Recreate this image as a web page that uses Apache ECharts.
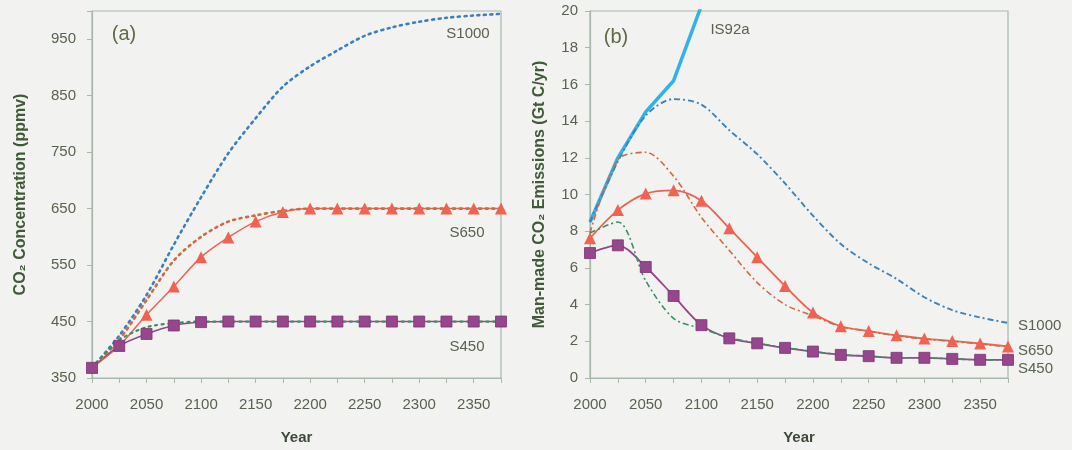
<!DOCTYPE html>
<html>
<head>
<meta charset="utf-8">
<script src="https://cdn.jsdelivr.net/npm/echarts@6/dist/echarts.min.js"></script>
<style>
  html, body { margin: 0; padding: 0; background: #f2f2f0; }
  #chart { width: 1072px; height: 450px; }
</style>
</head>
<body>
<div id="chart"></div>
<script>
// ---- Data ----
const years = [2000, 2025, 2050, 2075, 2100, 2125, 2150, 2175, 2200, 2225, 2250, 2275, 2300, 2325, 2350, 2375];
const yearLabels = [2000, 2050, 2100, 2150, 2200, 2250, 2300, 2350];
const concTicks = [350, 450, 550, 650, 750, 850, 950];
const emisTicks = [0, 2, 4, 6, 8, 10, 12, 14, 16, 18, 20];

// Panel (a): CO2 concentration (ppmv)
const concS1000 = [368, 425, 497, 586, 670, 748, 810, 866, 902, 930, 956, 971, 981, 988, 992, 995];
const concS650Dotted = [368, 418, 488, 558, 600, 627, 638, 646, 650, 650, 650, 650, 650, 650, 650, 650];
const concS650Marked = [368, 407, 462, 512, 564, 599, 627, 644, 650, 650, 650, 650, 650, 650, 650, 650];
const concS450Dotted = [368, 417, 440, 447, 450, 450, 450, 450, 450, 450, 450, 450, 450, 450, 450, 450];
const concS450Marked = [368, 407, 428, 443, 449, 450, 450, 450, 450, 450, 450, 450, 450, 450, 450, 450];

// Panel (b): man-made CO2 emissions (Gt C/yr)
const is92aYears = [2000, 2025, 2050, 2075, 2100];
const emisIS92a = [8.5, 12.0, 14.5, 16.2, 20.3];
const emisS1000 = [8.5, 11.8, 14.3, 15.2, 14.9, 13.5, 12.2, 10.6, 8.85, 7.3, 6.25, 5.4, 4.4, 3.7, 3.3, 3.0];
const emisS650Dotted = [7.9, 11.9, 12.3, 11.0, 8.75, 6.95, 5.2, 4.0, 3.4, 2.8, 2.55, 2.3, 2.12, 2.0, 1.85, 1.7];
const emisS650Marked = [7.62, 9.15, 10.05, 10.23, 9.66, 8.16, 6.58, 5.01, 3.57, 2.82, 2.56, 2.33, 2.15, 2.02, 1.88, 1.72];
const emisS450Dotted = [7.9, 8.5, 5.3, 3.25, 2.7, 2.2, 1.9, 1.66, 1.45, 1.27, 1.19, 1.1, 1.1, 1.04, 0.99, 0.98];
const emisS450Marked = [6.81, 7.23, 6.05, 4.47, 2.88, 2.16, 1.89, 1.64, 1.44, 1.26, 1.19, 1.1, 1.1, 1.04, 0.99, 0.99];

// ---- Styles ----
const FONT = "'Liberation Sans', Arial, sans-serif";
const AXIS_COLOR = '#a6b9ac';
const LABEL_COLOR = '#59624f';
const NAME_COLOR = '#3f5a37';
const C_BLUE = '#3b7fc0';
const C_RED = '#f06352';
const C_RED_DOT = '#cf6a43';
const C_PURPLE = '#96478c';
const C_GREEN = '#3c8f62';
const C_IS92A = '#33b2e8';

const pairs = (xs, ys) => xs.map((x, i) => [x, ys[i]]);

function xAxis(gridIndex) {
  return {
    type: 'value', gridIndex, min: 2000, max: 2375, interval: 25,
    name: 'Year', nameLocation: 'middle', nameGap: 52,
    nameTextStyle: { fontFamily: FONT, fontSize: 15, fontWeight: 'bold', color: '#3e4a38' },
    axisLine: { show: true, lineStyle: { color: AXIS_COLOR, width: 1.2 } },
    axisTick: { show: true, length: 5, lineStyle: { color: AXIS_COLOR } },
    axisLabel: {
      margin: 19, fontFamily: FONT, fontSize: 15, color: LABEL_COLOR,
      formatter: v => (yearLabels.indexOf(v) >= 0 ? String(v) : '')
    },
    splitLine: { show: false }
  };
}

const option = {
  backgroundColor: '#f2f2f0',
  animation: false,
  grid: [
    { left: 92, top: 11, width: 409, height: 369, show: true, borderColor: AXIS_COLOR, borderWidth: 1.2, backgroundColor: 'transparent' },
    { left: 590, top: 11, width: 418, height: 370, show: true, borderColor: AXIS_COLOR, borderWidth: 1.2, backgroundColor: 'transparent' }
  ],
  xAxis: [xAxis(0), xAxis(1)],
  yAxis: [
    {
      type: 'value', gridIndex: 0, min: 350, max: 1000, interval: 100,
      name: 'CO\u2082 Concentration (ppmv)', nameLocation: 'middle', nameGap: 63, nameRotate: 90,
      nameTextStyle: { fontFamily: FONT, fontSize: 16, fontWeight: 'bold', color: NAME_COLOR },
      axisLine: { show: true, lineStyle: { color: AXIS_COLOR, width: 1.2 } },
      axisTick: { show: true, length: 5, lineStyle: { color: AXIS_COLOR } },
      axisLabel: {
        margin: 16, fontFamily: FONT, fontSize: 15, color: LABEL_COLOR,
        formatter: v => (concTicks.indexOf(v) >= 0 ? String(v) : '')
      },
      splitLine: { show: false }
    },
    {
      type: 'value', gridIndex: 1, min: 0, max: 20, interval: 2,
      name: 'Man-made CO\u2082 Emissions (Gt C/yr)', nameLocation: 'middle', nameGap: 42, nameRotate: 90,
      nameTextStyle: { fontFamily: FONT, fontSize: 16, fontWeight: 'bold', color: NAME_COLOR },
      axisLine: { show: true, lineStyle: { color: AXIS_COLOR, width: 1.2 } },
      axisTick: { show: true, length: 5, lineStyle: { color: AXIS_COLOR } },
      axisLabel: {
        margin: 12, fontFamily: FONT, fontSize: 15, color: LABEL_COLOR,
        formatter: v => (emisTicks.indexOf(v) >= 0 ? String(v) : '')
      },
      splitLine: { show: false }
    }
  ],
  series: [
    // Panel (a)
    { name: 'S650 marked (a)', type: 'line', xAxisIndex: 0, yAxisIndex: 0, data: pairs(years, concS650Marked),
      smooth: 0.3, symbol: 'triangle', symbolSize: 12, itemStyle: { color: C_RED },
      lineStyle: { color: C_RED, width: 1.5 } },
    { name: 'S450 marked (a)', type: 'line', xAxisIndex: 0, yAxisIndex: 0, data: pairs(years, concS450Marked),
      smooth: 0.3, symbol: 'rect', symbolSize: 11, itemStyle: { color: C_PURPLE, borderColor: '#7a3372', borderWidth: 0.8 },
      lineStyle: { color: C_PURPLE, width: 1.5 } },
    { name: 'S1000 (a)', type: 'line', xAxisIndex: 0, yAxisIndex: 0, data: pairs(years, concS1000),
      smooth: 0.3, showSymbol: false, lineStyle: { color: C_BLUE, width: 2.6, type: [2, 4.5], cap: 'round' } },
    { name: 'S650 (a)', type: 'line', xAxisIndex: 0, yAxisIndex: 0, data: pairs(years, concS650Dotted),
      smooth: 0.3, showSymbol: false, lineStyle: { color: C_RED_DOT, width: 2.6, type: [2, 4.5], cap: 'round' } },
    { name: 'S450 (a)', type: 'line', xAxisIndex: 0, yAxisIndex: 0, data: pairs(years, concS450Dotted),
      smooth: 0.3, showSymbol: false, lineStyle: { color: C_GREEN, width: 2.2, type: [2, 4.5], cap: 'round' } },

    // Panel (b)
    { name: 'IS92a', type: 'line', xAxisIndex: 1, yAxisIndex: 1, data: pairs(is92aYears, emisIS92a),
      showSymbol: false, clip: true, lineStyle: { color: C_IS92A, width: 3.5 } },
    { name: 'S650 marked (b)', type: 'line', xAxisIndex: 1, yAxisIndex: 1, data: pairs(years, emisS650Marked),
      smooth: 0.3, symbol: 'triangle', symbolSize: 12, itemStyle: { color: C_RED },
      lineStyle: { color: C_RED, width: 1.8 } },
    { name: 'S450 marked (b)', type: 'line', xAxisIndex: 1, yAxisIndex: 1, data: pairs(years, emisS450Marked),
      smooth: 0.3, symbol: 'rect', symbolSize: 11, itemStyle: { color: C_PURPLE, borderColor: '#7a3372', borderWidth: 0.8 },
      lineStyle: { color: C_PURPLE, width: 1.8 } },
    { name: 'S1000 (b)', type: 'line', xAxisIndex: 1, yAxisIndex: 1, data: pairs(years, emisS1000),
      smooth: 0.3, showSymbol: false, lineStyle: { color: '#3f82b8', width: 1.9, type: [6, 3, 2, 3] } },
    { name: 'S650 (b)', type: 'line', xAxisIndex: 1, yAxisIndex: 1, data: pairs(years, emisS650Dotted),
      smooth: 0.3, showSymbol: false, lineStyle: { color: C_RED_DOT, width: 1.6, type: [6, 3, 2, 3] } },
    { name: 'S450 (b)', type: 'line', xAxisIndex: 1, yAxisIndex: 1, data: pairs(years, emisS450Dotted),
      smooth: 0.3, showSymbol: false, lineStyle: { color: C_GREEN, width: 1.6, type: [6, 3, 2, 3] } }
  ],
  graphic: [
    { type: 'text', x: 124, y: 34, style: { text: '(a)', font: '20px ' + FONT, fill: '#5d6a44', align: 'center', verticalAlign: 'middle' } },
    { type: 'text', x: 468, y: 34, style: { text: 'S1000', font: '15px ' + FONT, fill: LABEL_COLOR, align: 'center', verticalAlign: 'middle' } },
    { type: 'text', x: 467, y: 233, style: { text: 'S650', font: '15px ' + FONT, fill: LABEL_COLOR, align: 'center', verticalAlign: 'middle' } },
    { type: 'text', x: 467, y: 347, style: { text: 'S450', font: '15px ' + FONT, fill: LABEL_COLOR, align: 'center', verticalAlign: 'middle' } },
    { type: 'text', x: 616, y: 37, style: { text: '(b)', font: '20px ' + FONT, fill: '#5d6a44', align: 'center', verticalAlign: 'middle' } },
    { type: 'text', x: 730, y: 30, style: { text: 'IS92a', font: '15px ' + FONT, fill: LABEL_COLOR, align: 'center', verticalAlign: 'middle' } },
    { type: 'text', x: 1018, y: 326, style: { text: 'S1000', font: '15px ' + FONT, fill: LABEL_COLOR, align: 'left', verticalAlign: 'middle' } },
    { type: 'text', x: 1018, y: 351, style: { text: 'S650', font: '15px ' + FONT, fill: LABEL_COLOR, align: 'left', verticalAlign: 'middle' } },
    { type: 'text', x: 1018, y: 369, style: { text: 'S450', font: '15px ' + FONT, fill: LABEL_COLOR, align: 'left', verticalAlign: 'middle' } }
  ]
};

const chart = echarts.init(document.getElementById('chart'), null, { renderer: 'canvas' });
chart.setOption(option);
</script>
</body>
</html>
